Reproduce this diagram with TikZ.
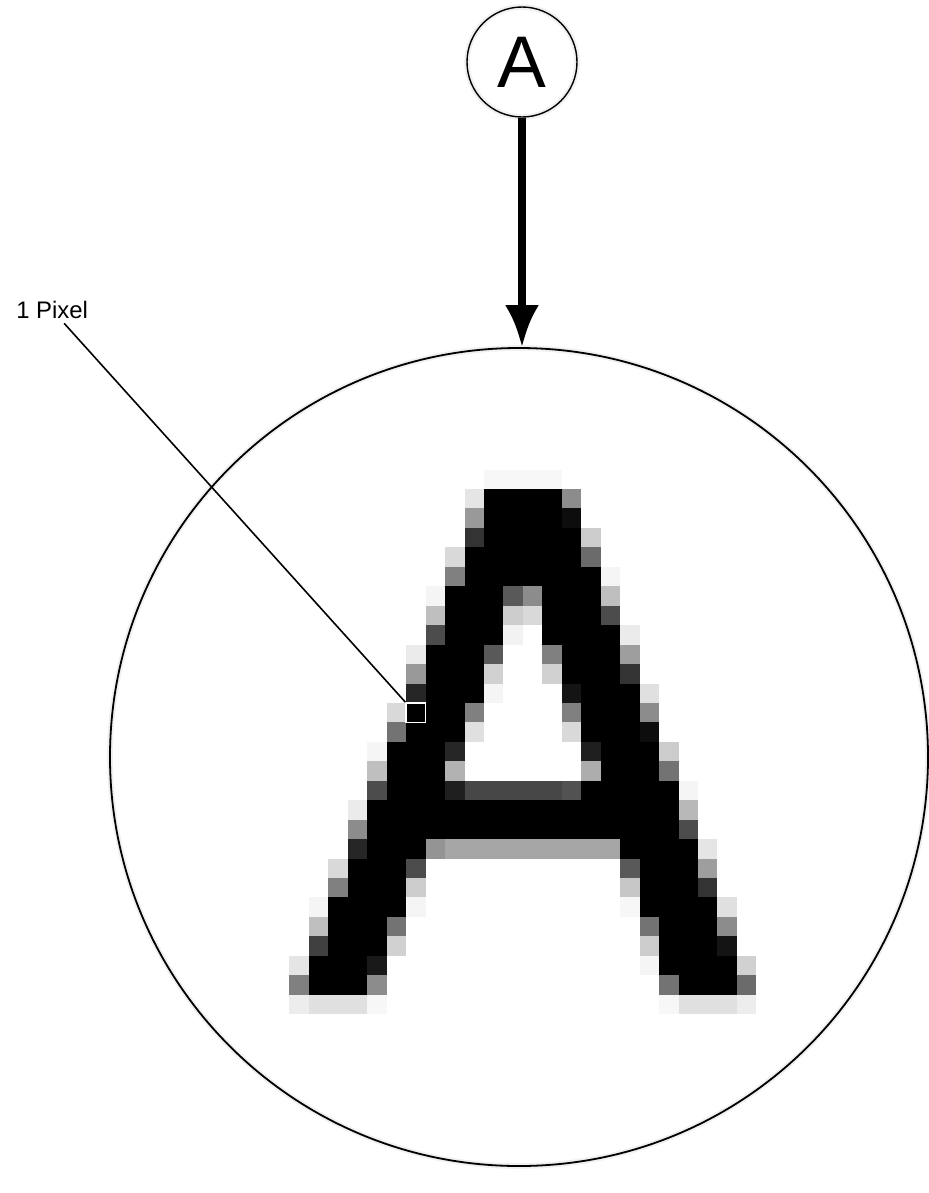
\documentclass[tikz,border=0pt]{standalone}
\usepackage{fontspec}
\setmainfont{Liberation Sans}
\usetikzlibrary{arrows.meta}

\begin{document}
\begin{tikzpicture}[
  x=0.25mm, y=-0.25mm,
  ring/.style={circle, draw=black, line width=0.45mm, inner sep=0pt, preaction={draw=black!6, line width=1.4mm}},
  pixbox/.style={draw=white, line width=0.4mm, minimum size=4.86mm, inner sep=0pt},
  line/.style={-{Latex[length=10.5mm, width=8.5mm]}, line width=1.8mm, draw=black},
  leader/.style={draw=black, line width=0.4mm}
]
\useasboundingbox (0,0) rectangle (929,1193);

\node[ring, minimum size=204.5mm] (zoom) at (519,757) {};
\node[ring, line width=0.35mm, minimum size=27.5mm, font=\fontsize{52}{52}\selectfont] (glyph) at (522,62) {A};
\node[anchor=base west, inner sep=0pt, font=\fontsize{17}{20}\selectfont] (label) at (16,318) {1 Pixel};

\begin{scope}[shift={(484,489)}, x=4.8625mm, y=-4.8625mm]
  \foreach \r/\a/\b in {0/0/3, 1/0/3, 2/0/4, 3/-1/4, 4/-1/5,
      5/-2/0, 5/3/5, 6/-2/0, 6/3/5, 7/-2/0, 7/3/6,
      8/-3/-1, 8/4/6, 9/-3/-1, 9/4/6, 10/-3/-1, 10/5/7,
      11/-4/-2, 11/5/7, 12/-4/-2, 12/5/7,
      13/-5/-3, 13/6/8, 14/-5/-3, 14/6/8, 15/-5/-3, 15/5/9,
      16/-6/9, 17/-6/9,
      18/-6/-4, 18/7/10, 19/-7/-5, 19/8/10, 20/-7/-5, 20/8/10,
      21/-8/-5, 21/8/11, 22/-8/-6, 22/9/11, 23/-8/-6, 23/9/11,
      24/-9/-7, 24/9/12, 25/-9/-7, 25/10/12}
    \fill (\a,\r) rectangle (\b+1,\r+1);
  \foreach \c/\r/\k in {0/-1/3, 1/-1/3, 2/-1/3, 3/-1/3,
      -1/0/10, -1/1/40, -1/2/80, -2/3/15, -2/4/50, -3/5/4, -3/6/25, -3/7/70,
      -4/8/8, -4/9/40, -4/10/85, -5/11/15, -5/12/55, -6/13/4, -6/14/25, -6/15/70,
      -7/16/8, -7/17/45, -7/18/85, -8/19/15, -8/20/50, -9/21/4, -9/22/25, -9/23/75,
      -10/24/10, -10/25/50, -10/26/7,
      4/0/45, 4/1/95, 5/2/20, 5/3/58, 6/4/4, 6/5/25, 6/6/70, 7/7/8, 7/8/38, 7/9/80,
      8/10/12, 8/11/45, 8/12/95, 9/13/20, 9/14/55, 10/15/4, 10/16/28, 10/17/70,
      11/18/10, 11/19/38, 11/20/80, 12/21/12, 12/22/45, 12/23/92,
      13/24/18, 13/25/58, 13/26/7,
      -9/26/12, -8/26/12, -7/26/12, -6/26/3, 9/26/3, 10/26/12, 11/26/12, 12/26/12,
      1/5/65, 2/5/45, 1/6/20, 2/6/15, 1/7/5, 0/8/65, 3/8/50, 0/9/18, 3/9/18,
      0/10/4, 4/10/92, -1/11/50, 4/11/50, -1/12/12, 4/12/15,
      -2/13/85, 5/13/88, -2/14/30, 5/14/32,
      -2/15/88, -1/15/72, 0/15/72, 1/15/72, 2/15/72, 3/15/72, 4/15/68,
      -3/18/42, -2/18/35, -1/18/35, 0/18/35, 1/18/35, 2/18/35, 3/18/35, 4/18/35, 5/18/35, 6/18/35,
      -4/19/70, 7/19/65, -4/20/20, 7/20/22, -4/21/4, 7/21/3,
      -5/22/55, 8/22/55, -5/23/18, 8/23/20, -6/24/90, 8/24/4, -6/25/45, 9/25/55}
    \fill[black!\k] (\c,\r) rectangle ++(1,1);
  \node[pixbox] (onepx) at (-3.5,11.5) {};
\end{scope}

\draw[leader] ([xshift=3mm, yshift=-1.2mm]label.south) -- (onepx.north west);
\draw[line] (glyph.south) -- (glyph.south |- zoom.north);
\end{tikzpicture}
\end{document}
